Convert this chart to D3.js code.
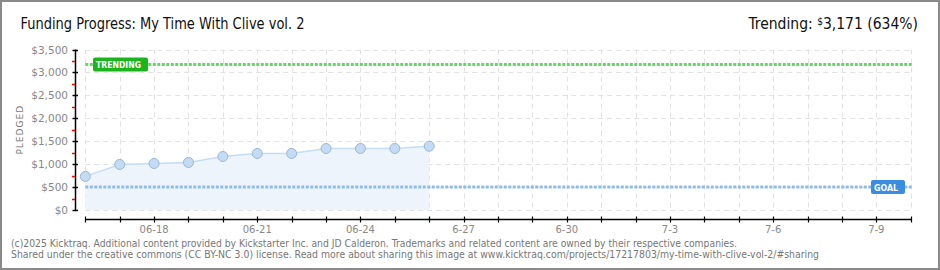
<!DOCTYPE html>
<html><head><meta charset="utf-8">
<script src="https://cdn.jsdelivr.net/npm/d3@7"></script>
<style>body{margin:0;background:#fff}svg{display:block}</style>
</head><body>
<script>
const dates = ["2025-06-16","2025-06-17","2025-06-18","2025-06-19","2025-06-20","2025-06-21","2025-06-22","2025-06-23","2025-06-24","2025-06-25","2025-06-26"];
const pledged = [733, 994, 1015, 1037, 1167, 1233, 1233, 1341, 1341, 1341, 1391];
const goal = 500;
const trending = 3171;
const trendingPct = 634;
const yTicks = [0, 500, 1000, 1500, 2000, 2500, 3000, 3500];
const xLabelDates = ["2025-06-18","2025-06-21","2025-06-24","2025-06-27","2025-06-30","2025-07-03","2025-07-06","2025-07-09"];
const xLabels = ["06-18","06-21","06-24","6-27","6-30","7-3","7-6","7-9"];
const domainStart = "2025-06-16", domainEnd = "2025-07-10";
const title = "Funding Progress: My Time With Clive vol. 2";
const footer1 = "(c)2025 Kicktraq. Additional content provided by Kickstarter Inc. and JD Calderon. Trademarks and related content are owned by their respective companies.";
const footer2 = "Shared under the creative commons (CC BY-NC 3.0) license. Read more about sharing this image at www.kicktraq.com/projects/17217803/my-time-with-clive-vol-2/#sharing";

const W = 940, H = 270;
const parse = d3.utcParse("%Y-%m-%d");
const svg = d3.select("body").append("svg").attr("width", W).attr("height", H);

svg.append("rect").attr("x",1).attr("y",1).attr("width",W-2).attr("height",H-2)
  .attr("fill","#fff").attr("stroke","#8a8a8a").attr("stroke-width",2);

const x = d3.scaleUtc().domain([parse(domainStart), parse(domainEnd)]).range([85.3, 910.7]);
const y = d3.scaleLinear().domain([0, 3500]).range([210, 49.5]);

const days = d3.utcDay.range(parse(domainStart), d3.utcDay.offset(parse(domainEnd),1));

// grid
const grid = svg.append("g").attr("stroke","#e2e2e2").attr("stroke-dasharray","5,4").attr("stroke-width",1);
yTicks.forEach(v => grid.append("line").attr("x1",x.range()[0]).attr("x2",x.range()[1])
  .attr("y1",Math.round(y(v))+0.5).attr("y2",Math.round(y(v))+0.5));
days.forEach(d => grid.append("line").attr("x1",Math.round(x(d))+0.5).attr("x2",Math.round(x(d))+0.5)
  .attr("y1",y(3500)).attr("y2",y(0)));

// area + line
const data = dates.map((d,i)=>({d:parse(d), v:pledged[i]}));
svg.append("path").datum(data)
  .attr("d", d3.area().x(d=>x(d.d)).y0(y(0)).y1(d=>y(d.v)))
  .attr("fill","#edf4fc");
svg.append("path").datum(data)
  .attr("d", d3.line().x(d=>x(d.d)).y(d=>y(d.v)))
  .attr("fill","none").attr("stroke","#c4dcf4").attr("stroke-width",1.5);

// goal line
svg.append("line").attr("x1",x.range()[0]).attr("x2",x.range()[1]+1)
  .attr("y1",y(goal)).attr("y2",y(goal))
  .attr("stroke","#8fbcea").attr("stroke-width",3).attr("stroke-dasharray","3,1.5");
// trending line
svg.append("line").attr("x1",x.range()[0]).attr("x2",x.range()[1]+1)
  .attr("y1",y(trending)).attr("y2",y(trending))
  .attr("stroke","#66d466").attr("stroke-width",3).attr("stroke-dasharray","3,1.5");

// points
svg.append("g").selectAll("circle").data(data).join("circle")
  .attr("cx",d=>x(d.d)).attr("cy",d=>y(d.v)).attr("r",5)
  .attr("fill","#c4dbf5").attr("stroke","#9ab6d6").attr("stroke-width",1);

// labels TRENDING / GOAL
function tag(xc, yc, w, text, fill){
  svg.append("rect").attr("x",xc).attr("y",yc-7).attr("width",w).attr("height",14)
    .attr("rx",2).attr("fill",fill);
  svg.append("text").attr("x",xc+3).attr("y",yc+3.5).text(text)
    .attr("font-family","DejaVu Sans").attr("font-weight","bold").attr("font-size",9)
    .attr("textLength",w-10).attr("lengthAdjust","spacingAndGlyphs").attr("fill","#fff");
}
tag(93, y(trending), 55, "TRENDING", "#1cb41c");
tag(871, y(goal), 34, "GOAL", "#3a8de0");

// y axis
const ya = svg.append("g");
ya.append("line").attr("x1",75.5).attr("x2",75.5).attr("y1",y(3500)).attr("y2",y(0)+0.5).attr("stroke","#000").attr("stroke-width",1.5);
yTicks.forEach(v=>{
  ya.append("line").attr("x1",72.5).attr("x2",78).attr("y1",Math.round(y(v))+0.5).attr("y2",Math.round(y(v))+0.5).attr("stroke","#000").attr("stroke-width",1.5);
  ya.append("text").attr("x",68).attr("y",y(v)+4).attr("text-anchor","end")
    .attr("font-family","DejaVu Sans").attr("font-size",10.5).attr("fill","#888").text(d3.format("$,")(v));
});
yTicks.slice(0,-1).forEach(v=>{
  ya.append("line").attr("x1",72).attr("x2",75).attr("y1",Math.round(y(v+250))+0.5).attr("y2",Math.round(y(v+250))+0.5).attr("stroke","#ff0000").attr("stroke-width",1.5);
});
svg.append("text").attr("transform",`translate(23,${(y(0)+y(3500))/2}) rotate(-90)`)
  .attr("text-anchor","middle").attr("font-family","DejaVu Sans").attr("font-size",9)
  .attr("letter-spacing",1).attr("fill","#777").text("PLEDGED");

// x axis
const xa = svg.append("g");
xa.append("line").attr("x1",x.range()[0]).attr("x2",x.range()[1]+0.5).attr("y1",219.5).attr("y2",219.5).attr("stroke","#000").attr("stroke-width",1.5);
days.forEach(d=>xa.append("line").attr("x1",Math.round(x(d))+0.5).attr("x2",Math.round(x(d))+0.5)
  .attr("y1",216.5).attr("y2",222.5).attr("stroke","#000").attr("stroke-width",1.2));
xLabelDates.forEach((d,i)=>xa.append("text").attr("x",x(parse(d))).attr("y",233).attr("text-anchor","middle")
  .attr("font-family","DejaVu Sans").attr("font-size",10).attr("fill","#888").text(xLabels[i]));

// title
svg.append("text").attr("x",20.5).attr("y",29).attr("font-family","DejaVu Sans Condensed, DejaVu Sans")
  .attr("font-size",15.5).attr("fill","#111").attr("textLength",284).attr("lengthAdjust","spacingAndGlyphs").text(title);

const tr = svg.append("text").attr("x",918).attr("y",29).attr("text-anchor","end")
  .attr("font-family","DejaVu Sans Condensed, DejaVu Sans").attr("font-size",15.5).attr("fill","#111");
tr.append("tspan").text("Trending:  ");
tr.append("tspan").attr("font-size",10).attr("dy",-4).text("$");
tr.append("tspan").attr("dy",4).text(d3.format(",")(trending)+" ("+trendingPct+"%)");

// footer
svg.append("text").attr("x",11).attr("y",247).attr("font-family","DejaVu Sans").attr("font-size",10)
  .attr("fill","#777").attr("textLength",726).attr("lengthAdjust","spacingAndGlyphs").text(footer1);
svg.append("text").attr("x",11).attr("y",258).attr("font-family","DejaVu Sans").attr("font-size",10)
  .attr("fill","#777").attr("textLength",808).attr("lengthAdjust","spacingAndGlyphs").text(footer2);
</script>
</body></html>
